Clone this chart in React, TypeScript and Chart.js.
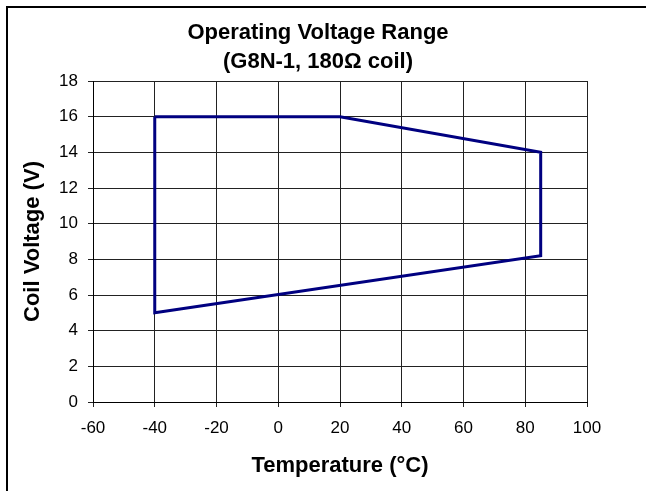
import React, { useEffect, useRef } from "react";
import { Chart, registerables } from "chart.js";

Chart.register(...registerables);

const titleLines = ["Operating Voltage Range", "(G8N-1, 180Ω coil)"];
const xAxisTitle = "Temperature (°C)";
const yAxisTitle = "Coil Voltage (V)";
const temperatures = [-40, 20, 85, 85, -40, -40];
const voltages = [16, 16, 14, 8.2, 5, 16];
const xMin = -60;
const xMax = 100;
const xStep = 20;
const yMin = 0;
const yMax = 18;
const yStep = 2;

const FONT = "'Liberation Sans', Arial, Helvetica, sans-serif";

export default function App() {
  const ref = useRef<HTMLCanvasElement | null>(null);

  useEffect(() => {
    if (!ref.current) return;
    const points = temperatures.map((t, i) => ({ x: t, y: voltages[i] }));
    const chart = new Chart(ref.current, {
      type: "scatter",
      data: {
        datasets: [
          {
            data: points,
            showLine: true,
            borderColor: "#000080",
            backgroundColor: "#000080",
            borderWidth: 3,
            pointRadius: 0,
            pointHoverRadius: 0,
            fill: false,
            tension: 0,
            borderJoinStyle: "miter",
          },
        ],
      },
      options: {
        animation: false,
        responsive: false,
        devicePixelRatio: 1,
        layout: { padding: { left: 0, right: 10, top: 0, bottom: 0 } },
        plugins: {
          legend: { display: false },
          tooltip: { enabled: false },
          title: {
            display: true,
            text: titleLines,
            color: "#000",
            font: { family: FONT, size: 22, weight: "bold", lineHeight: 29 / 22 },
            padding: { top: 18.5, bottom: 4.5 },
          },
        },
        scales: {
          x: {
            type: "linear",
            min: xMin,
            max: xMax,
            ticks: {
              stepSize: xStep,
              color: "#000",
              font: { family: FONT, size: 17 },
              padding: 11,
              maxRotation: 0,
            },
            grid: { color: "#222", lineWidth: 1, tickLength: 5, drawTicks: true },
            border: { display: true, color: "#000" },
            title: {
              display: true,
              text: xAxisTitle,
              color: "#000",
              font: { family: FONT, size: 22, weight: "bold" },
              padding: { top: 0, bottom: 12 },
            },
            afterFit: (s: any) => {
              s.height = 89;
            },
          },
          y: {
            type: "linear",
            min: yMin,
            max: yMax,
            ticks: {
              stepSize: yStep,
              color: "#000",
              font: { family: FONT, size: 17 },
              padding: 10,
            },
            grid: { color: "#222", lineWidth: 1, tickLength: 5, drawTicks: true },
            border: { display: true, color: "#000" },
            title: {
              display: true,
              text: yAxisTitle,
              color: "#000",
              font: { family: FONT, size: 22, weight: "bold" },
              padding: { top: 20, bottom: 0 },
            },
            afterFit: (s: any) => {
              s.width = 93;
            },
          },
          y2: {
            type: "linear",
            position: "right",
            display: true,
            grid: { display: false, drawTicks: false },
            border: { display: false },
            ticks: { display: false },
            afterFit: (s: any) => {
              s.width = 49;
            },
          },
        },
      },
    });
    return () => chart.destroy();
  }, []);

  return (
    <div
      style={{
        position: "fixed",
        left: 0,
        top: 0,
        width: 646,
        height: 491,
        overflow: "hidden",
        background: "#fff",
      }}
    >
      <div
        style={{
          position: "absolute",
          left: 6,
          top: 6,
          width: 700,
          height: 600,
          border: "2px solid #000",
          boxSizing: "border-box",
        }}
      />
      <canvas
        ref={ref}
        width={646}
        height={491}
        style={{ position: "absolute", left: 0, top: 0, width: 646, height: 491 }}
      />
    </div>
  );
}
